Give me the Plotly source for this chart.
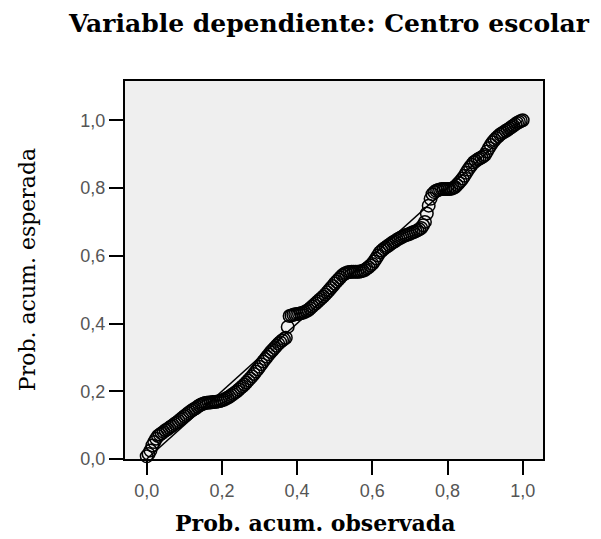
import plotly.graph_objects as go

obs_cum_prob = [
    0.000, 0.005, 0.010, 0.015, 0.020, 0.025, 0.030, 0.035, 0.040, 0.045,
    0.050, 0.055, 0.060, 0.065, 0.070, 0.075, 0.080, 0.085, 0.090, 0.095,
    0.100, 0.105, 0.110, 0.115, 0.120, 0.125, 0.130, 0.135, 0.140, 0.145,
    0.150, 0.155, 0.160, 0.165, 0.170, 0.175, 0.180, 0.185, 0.190, 0.195,
    0.200, 0.205, 0.210, 0.215, 0.220, 0.225, 0.230, 0.235, 0.240, 0.245,
    0.250, 0.255, 0.260, 0.265, 0.270, 0.275, 0.280, 0.285, 0.290, 0.295,
    0.300, 0.305, 0.310, 0.315, 0.320, 0.325, 0.330, 0.335, 0.340, 0.345,
    0.350, 0.355, 0.360, 0.365, 0.370, 0.375, 0.380, 0.385, 0.390, 0.395,
    0.400, 0.405, 0.410, 0.415, 0.420, 0.425, 0.430, 0.435, 0.440, 0.445,
    0.450, 0.455, 0.460, 0.465, 0.470, 0.475, 0.480, 0.485, 0.490, 0.495,
    0.500, 0.505, 0.510, 0.515, 0.520, 0.525, 0.530, 0.535, 0.540, 0.545,
    0.550, 0.555, 0.560, 0.565, 0.570, 0.575, 0.580, 0.585, 0.590, 0.595,
    0.600, 0.605, 0.610, 0.615, 0.620, 0.625, 0.630, 0.635, 0.640, 0.645,
    0.650, 0.655, 0.660, 0.665, 0.670, 0.675, 0.680, 0.685, 0.690, 0.695,
    0.700, 0.705, 0.710, 0.715, 0.720, 0.725, 0.730, 0.735, 0.740, 0.745,
    0.750, 0.755, 0.760, 0.765, 0.770, 0.775, 0.780, 0.785, 0.790, 0.795,
    0.800, 0.805, 0.810, 0.815, 0.820, 0.825, 0.830, 0.835, 0.840, 0.845,
    0.850, 0.855, 0.860, 0.865, 0.870, 0.875, 0.880, 0.885, 0.890, 0.895,
    0.900, 0.905, 0.910, 0.915, 0.920, 0.925, 0.930, 0.935, 0.940, 0.945,
    0.950, 0.955, 0.960, 0.965, 0.970, 0.975, 0.980, 0.985, 0.990, 0.995,
    1.000,
]
exp_cum_prob = [
    0.008, 0.015, 0.025, 0.040, 0.050, 0.060, 0.068, 0.072, 0.076, 0.080,
    0.085, 0.088, 0.092, 0.096, 0.100, 0.104, 0.108, 0.112, 0.117, 0.121,
    0.126, 0.130, 0.135, 0.139, 0.143, 0.147, 0.150, 0.154, 0.158, 0.161,
    0.163, 0.165, 0.166, 0.167, 0.167, 0.168, 0.168, 0.169, 0.170, 0.171,
    0.173, 0.175, 0.178, 0.181, 0.184, 0.188, 0.192, 0.196, 0.200, 0.205,
    0.210, 0.215, 0.220, 0.226, 0.232, 0.238, 0.244, 0.251, 0.258, 0.265,
    0.272, 0.280, 0.288, 0.295, 0.302, 0.309, 0.316, 0.322, 0.328, 0.334,
    0.340, 0.345, 0.350, 0.354, 0.358, 0.390, 0.422, 0.424, 0.426, 0.427,
    0.428, 0.429, 0.430, 0.432, 0.434, 0.437, 0.440, 0.445, 0.450, 0.455,
    0.460, 0.465, 0.470, 0.475, 0.480, 0.486, 0.492, 0.498, 0.505, 0.511,
    0.518, 0.524, 0.530, 0.536, 0.542, 0.546, 0.549, 0.551, 0.552, 0.553,
    0.553, 0.553, 0.553, 0.553, 0.554, 0.556, 0.558, 0.562, 0.566, 0.571,
    0.576, 0.584, 0.592, 0.601, 0.610, 0.615, 0.620, 0.624, 0.628, 0.632,
    0.636, 0.640, 0.643, 0.647, 0.650, 0.653, 0.656, 0.659, 0.661, 0.663,
    0.665, 0.668, 0.670, 0.672, 0.675, 0.678, 0.682, 0.690, 0.700, 0.725,
    0.748, 0.768, 0.782, 0.788, 0.792, 0.794, 0.796, 0.797, 0.797, 0.797,
    0.797, 0.797, 0.798, 0.800, 0.803, 0.809, 0.815, 0.821, 0.828, 0.836,
    0.845, 0.854, 0.862, 0.869, 0.876, 0.880, 0.884, 0.887, 0.890, 0.894,
    0.898, 0.908, 0.918, 0.927, 0.935, 0.942, 0.948, 0.953, 0.958, 0.962,
    0.965, 0.969, 0.972, 0.976, 0.980, 0.984, 0.988, 0.992, 0.995, 0.998,
    1.000,
]
ref_line = [0.0, 1.0]
tick_vals = [0.0, 0.2, 0.4, 0.6, 0.8, 1.0]

title_text = "Variable dependiente: Centro escolar"
x_title = "Prob. acum. observada"
y_title = "Prob. acum. esperada"

fig = go.Figure()
fig.add_trace(go.Scatter(
    x=ref_line, y=ref_line, mode="lines",
    line=dict(color="black", width=1.5), showlegend=False, hoverinfo="skip",
))
fig.add_trace(go.Scatter(
    x=obs_cum_prob, y=exp_cum_prob, mode="markers",
    marker=dict(symbol="circle-open", size=12.5, color="black", line=dict(width=1.5)),
    showlegend=False, cliponaxis=False,
))

axis_common = dict(
    showgrid=False, zeroline=False,
    showline=True, linecolor="black", linewidth=2, mirror=True,
    ticks="outside", ticklen=14, tickwidth=2, tickcolor="black",
    tickvals=tick_vals, tickformat=".1f",
    tickfont=dict(family="Liberation Sans", size=18, color="#555555"),
)

# the page body adds an 8px offset, so the figure is sized/placed to compensate
fig.update_layout(
    width=593, height=531,
    margin=dict(l=117, r=58, t=73, b=80),
    paper_bgcolor="white", plot_bgcolor="#efefef",
    separators=", ",
    xaxis=dict(range=[-0.0577, 1.054], **axis_common),
    yaxis=dict(range=[0.0, 1.116], **axis_common),
    annotations=[
        dict(text=title_text, xref="paper", yref="paper", x=0.488, y=1.1525,
             xanchor="center", yanchor="middle", showarrow=False,
             font=dict(family="DejaVu Serif", size=25, color="black", weight="bold")),
        dict(text=x_title, xref="paper", yref="paper", x=0.4545, y=-0.169,
             xanchor="center", yanchor="middle", showarrow=False,
             font=dict(family="DejaVu Serif", size=22, color="black", weight="bold")),
        dict(text=y_title, xref="paper", yref="paper", x=-0.2344, y=0.4996,
             xanchor="center", yanchor="middle", showarrow=False, textangle=-90,
             font=dict(family="DejaVu Serif", size=22, color="black")),
    ],
)

fig.write_html("out.html")
